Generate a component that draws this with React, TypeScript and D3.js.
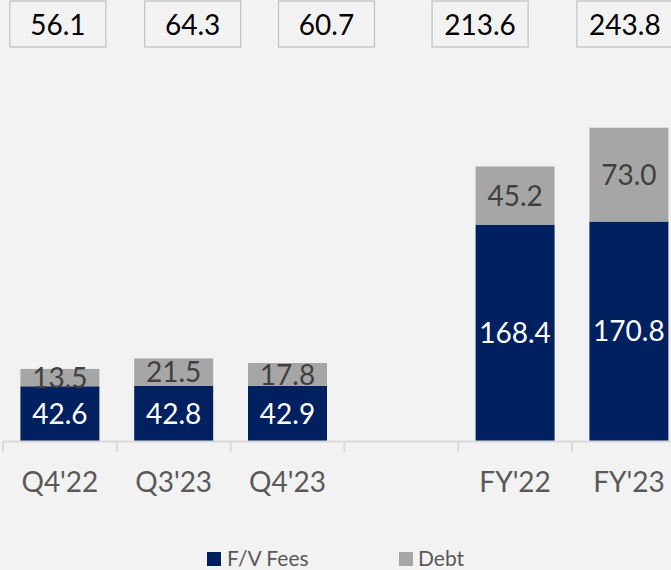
import React from "react";
import * as d3 from "d3";

const categories = ["Q4'22", "Q3'23", "Q4'23", "", "FY'22", "FY'23"];
const fvFees = [42.6, 42.8, 42.9, null, 168.4, 170.8];
const debt = [13.5, 21.5, 17.8, null, 45.2, 73.0];
const totals = [56.1, 64.3, 60.7, null, 213.6, 243.8];
const totalBoxOffsets = [-2, 19, 39, 0, -35, -4];

const W = 671;
const H = 570;
const NAVY = "#002060";
const GRAY = "#a6a6a6";
const FONT = "Lato, 'Open Sans', sans-serif";

export default function App() {
  const x = d3
    .scaleBand<string>()
    .domain(categories)
    .range([3, 3 + 6 * 113.8])
    .paddingInner(0.306)
    .paddingOuter(0.153);
  const y = d3.scaleLinear().domain([0, 250]).range([441, 441 - 250 * 1.285]);
  const bw = x.bandwidth();
  const step = x.step();

  return (
    <svg
      width={W}
      height={H}
      style={{ position: "absolute", left: 0, top: 0, background: "#f2f2f2", fontFamily: FONT }}
    >
      <rect x={0} y={0} width={W} height={H} fill="#f2f2f2" />
      {categories.map((c, i) => {
        const f = fvFees[i];
        const d = debt[i];
        if (f == null || d == null) return null;
        const x0 = x(c)!;
        const cx = x0 + bw / 2;
        return (
          <g key={"b" + i}>
            <rect x={x0} y={y(f)} width={bw} height={y(0) - y(f)} fill={NAVY} />
            <rect x={x0} y={y(f + d)} width={bw} height={y(f) - y(f + d)} fill={GRAY} />
            <text
              x={cx}
              y={(y(0) + y(f)) / 2}
              dy="0.36em"
              textAnchor="middle"
              fontSize={28}
              fill="#ffffff"
            >
              {f.toFixed(1)}
            </text>
            <text
              x={cx}
              y={(y(f) + y(f + d)) / 2}
              dy="0.36em"
              textAnchor="middle"
              fontSize={28}
              fill="#404040"
            >
              {d.toFixed(1)}
            </text>
          </g>
        );
      })}
      <line x1={3} x2={W} y1={441.5} y2={441.5} stroke="#d9d9d9" strokeWidth={2} />
      {d3.range(categories.length + 1).map((i) => {
        const tx = 3 + i * step;
        return <line key={"t" + i} x1={tx} x2={tx} y1={441} y2={452} stroke="#d9d9d9" strokeWidth={2} />;
      })}
      {categories.map((c, i) => (
        <text
          key={"l" + i}
          x={x(c)! + bw / 2}
          y={492}
          textAnchor="middle"
          fontSize={28}
          fill="#595959"
        >
          {c}
        </text>
      ))}
      {totals.map((t, i) => {
        if (t == null) return null;
        const cx = x(categories[i])! + bw / 2 + totalBoxOffsets[i];
        return (
          <g key={"tot" + i}>
            <rect x={cx - 48} y={1} width={96} height={46} fill="#f2f2f2" stroke="#bfbfbf" strokeWidth={1.2} />
            <text x={cx} y={35} textAnchor="middle" fontSize={28} fill="#000000">
              {t.toFixed(1)}
            </text>
          </g>
        );
      })}
      <g>
        <rect x={207} y={552} width={14} height={14} fill={NAVY} />
        <text x={227} y={566} fontSize={21} fill="#595959">F/V Fees</text>
        <rect x={399} y={552} width={14} height={14} fill={GRAY} />
        <text x={418} y={566} fontSize={21} fill="#595959">Debt</text>
      </g>
    </svg>
  );
}
